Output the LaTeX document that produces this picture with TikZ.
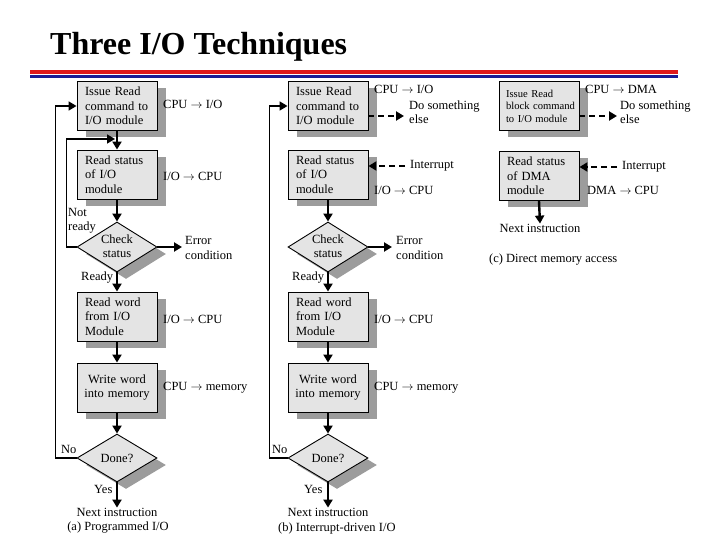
\documentclass[tikz,border=0pt]{standalone}
\usepackage{fontspec}
\setmainfont{Liberation Serif}
\usetikzlibrary{shapes.geometric,shadows,arrows.meta}
\definecolor{boxfill}{HTML}{E4E4E4}
\definecolor{shadowgray}{HTML}{9C9C9C}
\definecolor{rulered}{HTML}{E0191B}
\definecolor{ruleblue}{HTML}{1C1C96}
\tikzset{
  fnt/.style={font=\fontsize{12.5pt}{14.5pt}\selectfont},
  sfnt/.style={font=\fontsize{10.6pt}{12.6pt}\selectfont},
  shd/.style={general shadow={fill=shadowgray, shadow xshift=9pt, shadow yshift=-7pt}},
  box/.style={draw, line width=0.9pt, fill=boxfill, minimum width=80pt, minimum height=49pt,
    text width=64pt, inner xsep=8pt, inner ysep=0pt, align=left, fnt, shd},
  dia/.style={diamond, draw, line width=0.9pt, fill=boxfill, minimum width=80pt,
    minimum height=50pt, inner sep=0pt, shd},
  lbl/.style={inner sep=0pt, anchor=west, align=left, fnt},
  tip/.style={-{Triangle[width=9pt,length=8pt]}},
  flow/.style={line width=2.4pt, tip},
  loopline/.style={line width=1.7pt},
  dflow/.style={line width=2pt, dash pattern=on 6pt off 4pt, tip},
}
\begin{document}
\begin{tikzpicture}[x=1pt,y=-1pt]
\useasboundingbox (0,0) rectangle (720,540);
% title and rules
\node[anchor=base west, inner sep=0pt, font=\fontsize{32pt}{36pt}\selectfont\bfseries] (title) at (50,55) {Three I/O Techniques};
\fill[rulered] (30,70) rectangle (678,74);
\fill[ruleblue] (30,75.5) rectangle (678,77.7);

% ---------------- (a) Programmed I/O
\node[box] (a1) at (117,106) {Issue Read\\command to\\I/O module};
\node[box] (a2) at (117,174.5) {Read status\\of I/O\\module};
\node[dia] (ad1) at (117,247) {};
\node[fnt, align=center, inner sep=0pt] (ad1t) at (117,246) {Check\\status};
\node[box] (a3) at (117,316.5) {Read word\\from I/O\\Module};
\node[box, align=center, text width=72pt, inner xsep=4pt] (a4) at (117,387.5) {Write word\\into memory};
\node[dia, minimum height=48pt] (ad2) at (117,458) {};
\node[fnt, inner sep=0pt] (ad2t) at (117,458) {Done?};
\node[fnt, inner sep=0pt] (anext) at (117,512) {Next instruction};
\node[fnt, inner sep=0pt] (acap) at (118,528) {(a) Programmed I/O};
\coordinate (anr) at (115,139);
\coordinate (aerr) at (182,247);

\draw[flow] (a1) -- (a2);
\draw[flow] (a2) -- (ad1);
\draw[flow] (ad1) -- (a3);
\draw[flow] (a3) -- (a4);
\draw[flow] (a4) -- (ad2);
\draw[flow] (ad2.south) -- (anext.north);
\draw[flow] (ad1.east) -- (aerr);
\draw[loopline, tip] (ad1.west) -- ++(-10,0) |- (anr);
\draw[loopline, tip] (ad2.west) -- ++(-21,0) |- (a1.west);

\node[lbl] (al1) at (163,104) {CPU $\rightarrow$ I/O};
\node[lbl] (al2) at (163,176) {I/O $\rightarrow$ CPU};
\node[lbl] (al3) at (163,319) {I/O $\rightarrow$ CPU};
\node[lbl] (al4) at (163,388) {CPU $\rightarrow$ memory};
\node[lbl] (aerrt) at (185,248) {Error\\condition};
\node[lbl] (anrt) at (68,221) {Not\\ready};
\node[lbl] (aready) at (81,278) {Ready};
\node[lbl] (ano) at (61,449) {No};
\node[lbl] (ayes) at (94,489) {Yes};

% ---------------- (b) Interrupt-driven I/O
\node[box] (b1) at (328,106) {Issue Read\\command to\\I/O module};
\node[box] (b2) at (328,174.5) {Read status\\of I/O\\module};
\node[dia] (bd1) at (328,247) {};
\node[fnt, align=center, inner sep=0pt] (bd1t) at (328,246) {Check\\status};
\node[box] (b3) at (328,316.5) {Read word\\from I/O\\Module};
\node[box, align=center, text width=72pt, inner xsep=4pt] (b4) at (328,387.5) {Write word\\into memory};
\node[dia, minimum height=48pt] (bd2) at (328,458) {};
\node[fnt, inner sep=0pt] (bd2t) at (328,458) {Done?};
\node[fnt, inner sep=0pt] (bnext) at (328,512) {Next instruction};
\node[lbl] (bcap) at (278,528) {(b) Interrupt-driven I/O};
\coordinate (berr) at (392,247);
\coordinate (bdo) at (404,116);
\coordinate (bint) at (405,166);

\draw[flow] (b2) -- (bd1);
\draw[flow] (bd1) -- (b3);
\draw[flow] (b3) -- (b4);
\draw[flow] (b4) -- (bd2);
\draw[flow] (bd2.south) -- (bnext.north);
\draw[flow] (bd1.east) -- (berr);
\draw[loopline, tip] (bd2.west) -- ++(-18,0) |- (b1.west);
\draw[dflow] (b1.east |- bdo) -- (bdo);
\draw[dflow] (bint) -- (b2.east |- bint);

\node[lbl] (bl0) at (374,89) {CPU $\rightarrow$ I/O};
\node[lbl] (bdot) at (409,112) {Do something\\else};
\node[lbl] (bintt) at (410,166) {Interrupt};
\node[lbl] (bl2) at (374,190) {I/O $\rightarrow$ CPU};
\node[lbl] (bl3) at (374,319) {I/O $\rightarrow$ CPU};
\node[lbl] (bl4) at (374,388) {CPU $\rightarrow$ memory};
\node[lbl] (berrt) at (396,248) {Error\\condition};
\node[lbl] (bready) at (292,278) {Ready};
\node[lbl] (bno) at (272,449) {No};
\node[lbl] (byes) at (304,489) {Yes};

% ---------------- (c) Direct memory access
\node[box, sfnt, text width=72pt, inner xsep=4pt] (c1) at (539,106) {\hspace*{3pt}Issue Read\\\hspace*{3pt}block command\\\hspace*{3pt}to I/O module};
\node[box] (c2) at (539,176) {Read status\\of DMA\\module};
\node[fnt, inner sep=0pt] (cnext) at (540,228) {Next instruction};
\node[lbl] (ccap) at (489,260) {(c) Direct memory access};
\coordinate (cdo) at (617,116);
\coordinate (cint) at (617,167);

\draw[flow] (c2.south) -- (cnext.north);
\draw[dflow] (c1.east |- cdo) -- (cdo);
\draw[dflow] (cint) -- (c2.east |- cint);

\node[lbl] (cl0) at (585,89) {CPU $\rightarrow$ DMA};
\node[lbl] (cdot) at (620,112) {Do something\\else};
\node[lbl] (cintt) at (622,167) {Interrupt};
\node[lbl] (cl2) at (587,190) {DMA $\rightarrow$ CPU};
\end{tikzpicture}
\end{document}
